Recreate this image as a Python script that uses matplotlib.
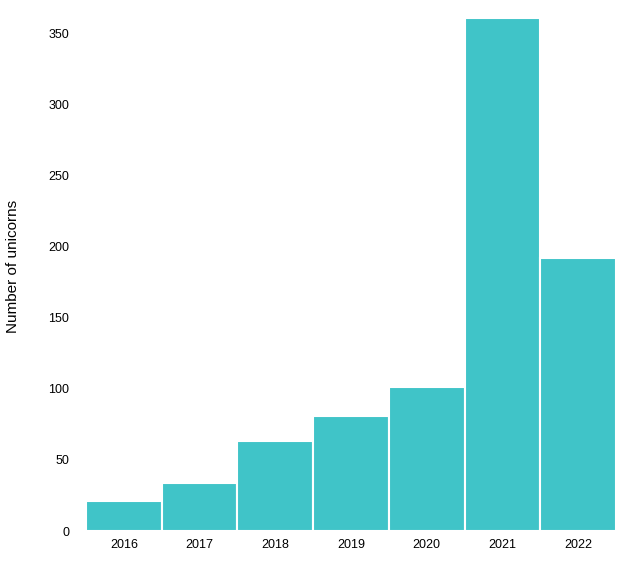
import matplotlib
matplotlib.use("Agg")
import matplotlib.pyplot as plt

years = ["2016", "2017", "2018", "2019", "2020", "2021", "2022"]
unicorns = [21, 34, 63, 81, 101, 361, 192]

plt.rcParams["font.family"] = "Liberation Sans"
fig = plt.figure(figsize=(6.19, 5.62), dpi=100)
ax = fig.add_axes([86/619, 31/562, 530/619, 530/562])
x = range(len(years))
ax.bar(x, unicorns, width=1.0, color="#40C4C8", edgecolor="white", linewidth=1.5)
ax.set_xlim(-0.5, len(years) - 0.5)
ax.set_ylim(0, 373)
ax.set_xticks(list(x))
ax.set_xticklabels(years, fontsize=9)
ax.set_yticks([0, 50, 100, 150, 200, 250, 300, 350])
ax.tick_params(axis="y", labelsize=9, length=0, pad=12)
ax.tick_params(axis="x", length=0, pad=6)
for s in ax.spines.values():
    s.set_visible(False)
ax.set_ylabel("Number of unicorns", fontsize=11)
ax.yaxis.set_label_coords(-0.125, 0.5)
fig.savefig("out.png", dpi=100)
